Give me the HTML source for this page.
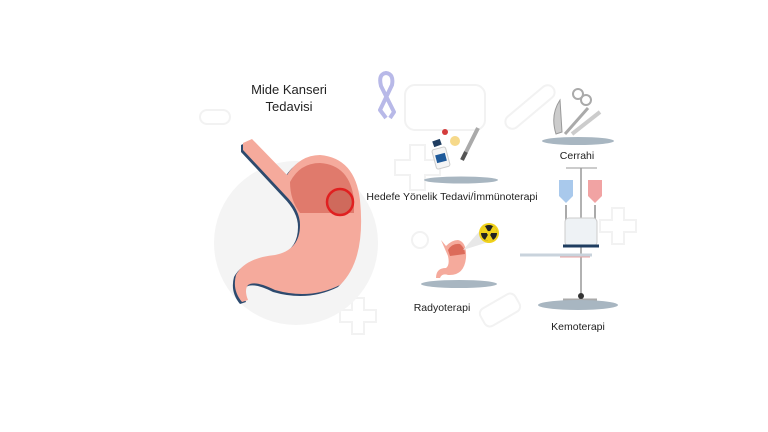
<!DOCTYPE html>
<html><head><meta charset="utf-8"><style>
html,body{margin:0;padding:0;background:#fff;}
svg{display:block}
text{font-family:"Liberation Sans","DejaVu Sans",sans-serif;fill:#222}
</style></head><body>
<svg width="768" height="432" viewBox="0 0 768 432">
<g fill="none" stroke="#f2f2f2" stroke-width="2">
<rect x="405" y="85" width="80" height="45" rx="10"/>
<path d="M395 160h15v-15h15v15h15v15h-15v15h-15v-15h-15z"/>
<path d="M600 220h12v-12h12v12h12v12h-12v12h-12v-12h-12z"/>
<path d="M340 310h12v-12h12v12h12v12h-12v12h-12v-12h-12z"/>
<rect x="500" y="100" width="60" height="14" rx="7" transform="rotate(-40 530 107)"/>
<rect x="200" y="110" width="30" height="14" rx="7"/>
<circle cx="420" cy="240" r="8"/>
<rect x="480" y="300" width="40" height="20" rx="6" transform="rotate(-30 500 310)"/>
</g>
<circle cx="296" cy="243" r="82" fill="#f4f4f4"/>
<text x="289" y="94" font-size="13" text-anchor="middle">Mide Kanseri</text>
<text x="289" y="111" font-size="13" text-anchor="middle">Tedavisi</text>
<path d="M386 118 L380 110 L392 85 Q394 74 386 73 Q378 74 381 86 L394 112 L390 118" fill="none" stroke="#b8b9e8" stroke-width="4" stroke-linejoin="round"/>
<!-- big stomach -->
<g>
<path transform="translate(-2,2)" d="M243 143 L252 139 L287 175 Q300 155 320 155 Q355 158 360 200 Q366 260 340 285 Q310 300 275 290 Q255 280 248 285 Q244 290 248 300 L242 302 Q232 290 236 275 Q245 258 275 255 Q300 250 300 225 Q300 210 285 195 L243 150 Z" fill="#2d4a6e"/>
<path d="M243 143 L252 139 L287 175 Q300 155 320 155 Q355 158 360 200 Q366 260 340 285 Q310 300 275 290 Q255 280 248 285 Q244 290 248 300 L242 302 Q232 290 236 275 Q245 258 275 255 Q300 250 300 225 Q300 210 285 195 L243 150 Z" fill="#f5aa9c"/>
<path d="M290 182 Q300 163 320 163 Q350 165 354 200 L354 213 L300 213 Q290 200 290 182 Z" fill="#e07a6c"/>
<circle cx="340" cy="202" r="13" fill="#cf6a5c" stroke="#e02020" stroke-width="2.5"/>
</g>
<!-- pills icon -->
<g>
<rect x="434" y="148" width="14" height="20" rx="2" fill="#f5f5f5" stroke="#ccc" transform="rotate(-15 441 158)"/>
<rect x="436" y="154" width="10" height="8" fill="#1f5a9a" transform="rotate(-15 441 158)"/>
<rect x="433" y="140" width="8" height="6" fill="#1f3d60" transform="rotate(-20 437 143)"/>
<circle cx="445" cy="132" r="3" fill="#d43c3c"/>
<circle cx="455" cy="141" r="5" fill="#f6d98a"/>
<path d="M462 160 L478 128" stroke="#aaa" stroke-width="4"/>
<path d="M462 160 L466 152" stroke="#555" stroke-width="4"/>
<ellipse cx="461" cy="180" rx="37" ry="3.5" fill="#a8b6c1"/>
</g>
<text x="452" y="200" font-size="10.5" text-anchor="middle">Hedefe Yönelik Tedavi/İmmünoterapi</text>
<!-- radyo -->
<g>
<path d="M441 240 L446 246 Q452 240 458 240 Q467 242 466 258 Q464 276 448 275 Q442 273 440 278 L436 278 Q436 268 446 268 Q450 265 448 256 Z" fill="#f5aa9c"/>
<path d="M448 250 Q452 243 460 244 Q465 248 465 254 L450 256 Z" fill="#dc6b5a"/>
<path d="M463 250 L484 226 L495 240 Z" fill="#e8e8e8"/>
<circle cx="489" cy="233" r="10" fill="#f1d21b"/>
<circle cx="489" cy="233" r="8" fill="#222"/>
<path d="M489 233 L489 225 A8 8 0 0 1 496 229 Z M489 233 L496 237 A8 8 0 0 1 489 241 Z M489 233 L482 237 A8 8 0 0 1 482 229 Z" fill="#f1d21b" transform="rotate(30 489 233)"/>
<circle cx="489" cy="233" r="2" fill="#f1d21b"/>
<ellipse cx="459" cy="284" rx="38" ry="4" fill="#a8b6c1"/>
</g>
<text x="442" y="311" font-size="10.5" text-anchor="middle">Radyoterapi</text>
<!-- cerrahi -->
<g>
<path d="M556 134 Q550 115 560 100 L562 132 Z" fill="#ccc" stroke="#999"/>
<path d="M565 134 L588 108" stroke="#aaa" stroke-width="3"/>
<circle cx="578" cy="94" r="5" fill="none" stroke="#aaa" stroke-width="2"/>
<circle cx="586" cy="100" r="5" fill="none" stroke="#aaa" stroke-width="2"/>
<path d="M572 134 L600 112" stroke="#ccc" stroke-width="4"/>
<ellipse cx="578" cy="141" rx="36" ry="4" fill="#a8b6c1"/>
</g>
<text x="577" y="159" font-size="10.5" text-anchor="middle">Cerrahi</text>
<!-- kemo -->
<g>
<path d="M566 168 H597" stroke="#999" stroke-width="1"/>
<path d="M581 168 V298" stroke="#999" stroke-width="1.5"/>
<path d="M559 180 h14 v16 l-7 7 l-7 -7 z" fill="#a9c9ec"/>
<path d="M588 180 h14 v16 l-7 7 l-7 -7 z" fill="#f1a3a3"/>
<path d="M566 205 V222 M595 205 V222" stroke="#aaa" stroke-width="2"/>
<rect x="565" y="218" width="32" height="28" rx="4" fill="#eef2f5" stroke="#ccc"/>
<path d="M563 246 H599" stroke="#1f3d60" stroke-width="3"/>
<path d="M520 255 H592" stroke="#c9d3dc" stroke-width="3"/>
<path d="M560 257 H590" stroke="#e8a0a0" stroke-width="1"/>
<path d="M563 300 H597" stroke="#aaa" stroke-width="3"/>
<circle cx="581" cy="296" r="3" fill="#333"/>
<ellipse cx="578" cy="305" rx="40" ry="5" fill="#a8b6c1"/>
</g>
<text x="578" y="330" font-size="10.5" text-anchor="middle">Kemoterapi</text>
</svg>
</body></html>
